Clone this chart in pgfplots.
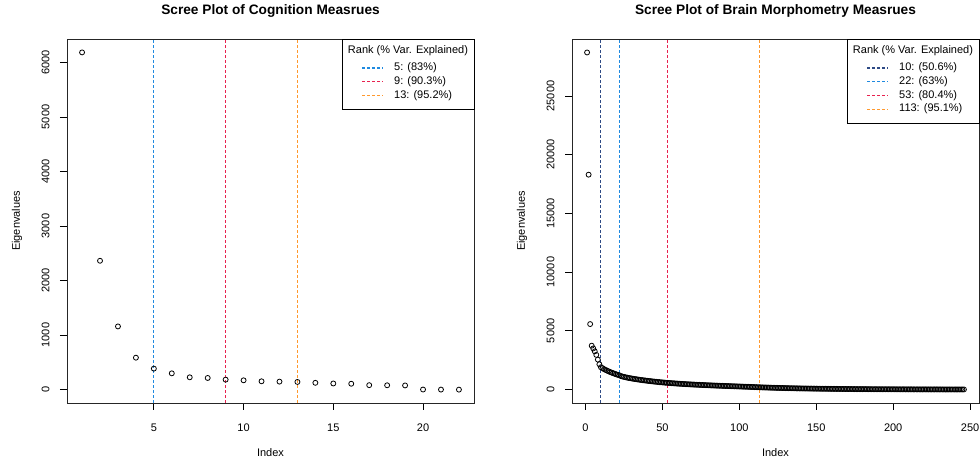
\documentclass[border=0pt]{standalone}
\usepackage{fontspec}
\setmainfont{Liberation Sans}
\usepackage{pgfplots}
\usepackage{pgfplotstable}
\pgfplotsset{compat=1.18}

\definecolor{rnavy}{rgb}{0.18,0.29,0.52}
\definecolor{rblue}{rgb}{0.12,0.54,0.88}
\definecolor{rred}{rgb}{0.91,0.13,0.31}
\definecolor{rorange}{rgb}{1.00,0.60,0.18}

% Eigenvalues of the cognition measures
\pgfplotstableread[row sep=\\]{
idx val\\
1 6184\\ 2 2363\\ 3 1159\\ 4 586\\ 5 385\\ 6 299\\ 7 226\\ 8 214\\ 9 183\\ 10 171\\
11 153\\ 12 147\\ 13 141\\ 14 125\\ 15 113\\ 16 108\\ 17 82\\ 18 80\\ 19 77\\ 20 2\\
21 1\\ 22 0\\
}\cogtab

% Eigenvalues of the brain morphometry measures
\pgfplotstableread[row sep=\\]{
idx val\\
1 28707\\ 2 18298\\ 3 5574\\ 4 3733\\ 5 3500\\ 6 3250\\ 7 2950\\ 8 2550\\ 9 2150\\ 10 1900\\
11 1820\\ 12 1740\\ 13 1670\\ 14 1610\\ 15 1550\\ 16 1490\\ 17 1440\\ 18 1390\\ 19 1340\\ 20 1290\\
21 1250\\ 22 1210\\ 23 1140\\ 24 1105\\ 25 1075\\ 26 1045\\ 27 1015\\ 28 990\\ 29 965\\ 30 940\\
31 915\\ 32 895\\ 33 875\\ 34 855\\ 35 835\\ 36 815\\ 37 797\\ 38 780\\ 39 763\\ 40 747\\
41 731\\ 42 715\\ 43 700\\ 44 685\\ 45 671\\ 46 657\\ 47 643\\ 48 630\\ 49 617\\ 50 605\\
51 593\\ 52 581\\ 53 570\\ 54 560\\ 55 550\\ 56 540\\ 57 530\\ 58 520\\ 59 511\\ 60 502\\
61 493\\ 62 484\\ 63 476\\ 64 468\\ 65 460\\ 66 452\\ 67 444\\ 68 437\\ 69 430\\ 70 423\\
71 416\\ 72 409\\ 73 402\\ 74 396\\ 75 390\\ 76 384\\ 77 378\\ 78 372\\ 79 366\\ 80 360\\
81 354\\ 82 348\\ 83 342\\ 84 337\\ 85 332\\ 86 327\\ 87 322\\ 88 317\\ 89 312\\ 90 307\\
91 302\\ 92 297\\ 93 292\\ 94 287\\ 95 282\\ 96 277\\ 97 272\\ 98 267\\ 99 262\\ 100 257\\
101 252\\ 102 247\\ 103 242\\ 104 237\\ 105 232\\ 106 227\\ 107 222\\ 108 217\\ 109 212\\ 110 207\\
111 202\\ 112 197\\ 113 192\\ 114 185\\ 115 180\\ 116 176\\ 117 171\\ 118 167\\ 119 162\\ 120 158\\
121 154\\ 122 150\\ 123 146\\ 124 142\\ 125 138\\ 126 135\\ 127 131\\ 128 128\\ 129 125\\ 130 121\\
131 118\\ 132 115\\ 133 112\\ 134 109\\ 135 106\\ 136 104\\ 137 101\\ 138 98\\ 139 96\\ 140 93\\
141 91\\ 142 88\\ 143 86\\ 144 84\\ 145 82\\ 146 80\\ 147 78\\ 148 75\\ 149 74\\ 150 72\\
151 70\\ 152 68\\ 153 66\\ 154 64\\ 155 63\\ 156 61\\ 157 60\\ 158 58\\ 159 56\\ 160 55\\
161 54\\ 162 52\\ 163 51\\ 164 50\\ 165 48\\ 166 47\\ 167 46\\ 168 45\\ 169 43\\ 170 42\\
171 41\\ 172 40\\ 173 39\\ 174 38\\ 175 37\\ 176 36\\ 177 35\\ 178 34\\ 179 33\\ 180 32\\
181 32\\ 182 31\\ 183 30\\ 184 29\\ 185 29\\ 186 28\\ 187 27\\ 188 26\\ 189 26\\ 190 25\\
191 24\\ 192 24\\ 193 23\\ 194 22\\ 195 22\\ 196 21\\ 197 21\\ 198 20\\ 199 20\\ 200 19\\
201 18\\ 202 18\\ 203 17\\ 204 17\\ 205 16\\ 206 16\\ 207 16\\ 208 15\\ 209 15\\ 210 14\\
211 14\\ 212 14\\ 213 13\\ 214 13\\ 215 12\\ 216 12\\ 217 12\\ 218 11\\ 219 11\\ 220 11\\
221 10\\ 222 10\\ 223 10\\ 224 10\\ 225 9\\ 226 9\\ 227 9\\ 228 9\\ 229 8\\ 230 8\\
231 8\\ 232 8\\ 233 7\\ 234 7\\ 235 7\\ 236 7\\ 237 7\\ 238 6\\ 239 6\\ 240 6\\
241 6\\ 242 6\\ 243 6\\ 244 6\\ 245 6\\ 246 6\\
}\braintab

\tikzset{legdash/.style={line width=1.1pt, dash pattern=on 3pt off 2pt}}

\pgfplotsset{
  scree/.style={
    scale only axis, width=407pt, height=364pt,
    anchor=south west,
    axis line style={line width=0.9pt, black!85},
    tick align=outside, tick pos=left,
    major tick length=7pt,
    every tick/.style={black, line width=0.8pt},
    tick label style={font=\fontsize{11}{13}\selectfont},
    xticklabel shift=10pt, yticklabel shift=7pt,
    /pgf/number format/assume math mode=true,
    /pgf/number format/1000 sep={},
    scaled y ticks=false, scaled x ticks=false,
    yticklabel style={rotate=90, anchor=south},
    xlabel={Index}, ylabel={Eigenvalues},
    label style={font=\fontsize{11}{13}\selectfont},
    xlabel style={at={(axis description cs:0.5,-0.1374)}, anchor=center},
    ylabel style={at={(axis description cs:-0.1229,0.5)}, anchor=center, rotate=0},
    every axis title/.style={at={(axis description cs:0.5,1.0783)}, anchor=center,
                 font=\bfseries\fontsize{13.7}{16}\selectfont},
  },
  eig/.style={only marks, mark=o, mark size=2.5pt, black,
              mark options={line width=0.8pt}},
  cut/.style={legdash, forget plot},
}

\newcommand{\legfont}{\fontsize{11}{13}\selectfont}

\begin{document}
\begin{tikzpicture}
\begin{axis}[scree, name=L, at={(67pt,59pt)},
  title={Scree Plot of Cognition Measrues},
  xmin=0.16, xmax=22.84, ymin=-245, ymax=6430,
  xtick={5,10,15,20}, ytick={0,1000,...,6000}]
  \addplot[cut, color=rblue]   coordinates {(5,-245) (5,6430)};
  \addplot[cut, color=rred]    coordinates {(9,-245) (9,6430)};
  \addplot[cut, color=rorange] coordinates {(13,-245) (13,6430)};
  \addplot[eig] table[x=idx, y=val] {\cogtab};
\end{axis}

\begin{axis}[scree, name=R, at={(572pt,59pt)},
  title={Scree Plot of Brain Morphometry Measrues},
  xmin=-8.8, xmax=255.8, ymin=-1148, ymax=29855,
  xtick={0,50,...,250}, ytick={0,5000,...,25000}]
  \addplot[cut, color=rnavy]   coordinates {(10,-1148) (10,29855)};
  \addplot[cut, color=rblue]   coordinates {(22,-1148) (22,29855)};
  \addplot[cut, color=rred]    coordinates {(53,-1148) (53,29855)};
  \addplot[cut, color=rorange] coordinates {(113,-1148) (113,29855)};
  \addplot[eig] table[x=idx, y=val] {\braintab};
\end{axis}

% legend of the cognition panel
\begin{scope}[shift={(L.north east)}, font=\legfont]
  \draw[line width=0.8pt, fill=white] (-132pt,0pt) rectangle (0pt,-70.4pt);
  \node at (-66pt,-11.5pt) {Rank (\% Var. Explained)};
  \draw[legdash, color=rblue]   (-112pt,-29pt) -- (-91pt,-29pt);
  \node[anchor=west, inner sep=0pt] at (-80pt,-29pt) {5: (83\%)};
  \draw[legdash, color=rred]    (-112pt,-42.7pt) -- (-91pt,-42.7pt);
  \node[anchor=west, inner sep=0pt] at (-80pt,-42.7pt) {9: (90.3\%)};
  \draw[legdash, color=rorange] (-112pt,-56.4pt) -- (-91pt,-56.4pt);
  \node[anchor=west, inner sep=0pt] at (-80pt,-56.4pt) {13: (95.2\%)};
\end{scope}

% legend of the morphometry panel
\begin{scope}[shift={(R.north east)}, font=\legfont]
  \draw[line width=0.8pt, fill=white] (-132pt,0pt) rectangle (0pt,-84.1pt);
  \node at (-66pt,-11.5pt) {Rank (\% Var. Explained)};
  \draw[legdash, color=rnavy]   (-112pt,-29pt) -- (-91pt,-29pt);
  \node[anchor=west, inner sep=0pt] at (-80pt,-29pt) {10: (50.6\%)};
  \draw[legdash, color=rblue]   (-112pt,-42.7pt) -- (-91pt,-42.7pt);
  \node[anchor=west, inner sep=0pt] at (-80pt,-42.7pt) {22: (63\%)};
  \draw[legdash, color=rred]    (-112pt,-56.4pt) -- (-91pt,-56.4pt);
  \node[anchor=west, inner sep=0pt] at (-80pt,-56.4pt) {53: (80.4\%)};
  \draw[legdash, color=rorange] (-112pt,-70.1pt) -- (-91pt,-70.1pt);
  \node[anchor=west, inner sep=0pt] at (-80pt,-70.1pt) {113: (95.1\%)};
\end{scope}

\pgfresetboundingbox
\useasboundingbox (0pt,0pt) rectangle (980pt,462pt);
\end{tikzpicture}
\end{document}
